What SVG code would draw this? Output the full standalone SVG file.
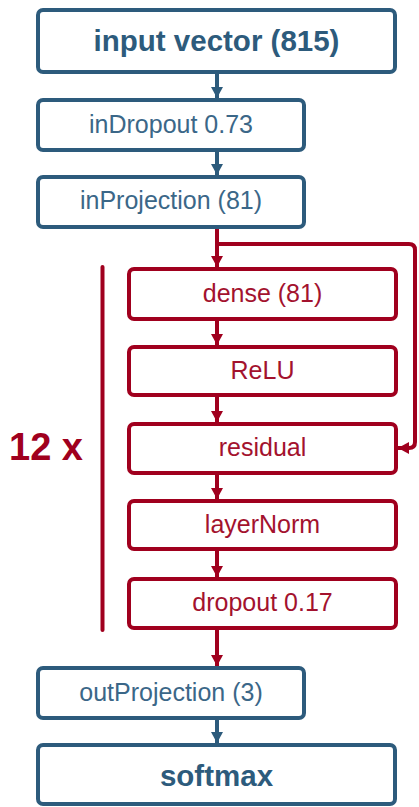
<svg xmlns="http://www.w3.org/2000/svg" width="419" height="807" viewBox="0 0 419 807">
<defs>
<style>
.bb{fill:#fff;stroke:#2d5b7c;stroke-width:4}
.rb{fill:#fff;stroke:#a0001e;stroke-width:4}
.t{font-family:"Liberation Sans",Arial,sans-serif;text-anchor:middle}
.bt{fill:#3b6788;font-size:25px}
.btb{fill:#2d5b7c;font-size:29.5px;font-weight:bold}
.rt{fill:#a3122e;font-size:25px}
.bl{stroke:#2d5b7c;stroke-width:4;fill:none}
.rl{stroke:#a0001e;stroke-width:4;fill:none}
</style>
<marker id="ab" markerUnits="userSpaceOnUse" markerWidth="14" markerHeight="12" refX="11" refY="6" orient="auto" viewBox="0 0 11 12"><path d="M0,0 L11,6 L0,12 z" fill="#2d5b7c"/></marker>
<marker id="ar" markerUnits="userSpaceOnUse" markerWidth="14" markerHeight="12" refX="11" refY="6" orient="auto" viewBox="0 0 11 12"><path d="M0,0 L11,6 L0,12 z" fill="#a0001e"/></marker>
</defs>
<g id="connectors">
<line class="bl" x1="217" y1="74" x2="217" y2="98" marker-end="url(#ab)"/>
<line class="bl" x1="217" y1="152" x2="217" y2="175" marker-end="url(#ab)"/>
<line class="rl" x1="217" y1="229" x2="217" y2="267" marker-end="url(#ar)"/>
<path class="rl" d="M217,244 H409 Q415,244 415,250 V442 Q415,448 409,448 H398" marker-end="url(#ar)"/>
<line class="rl" x1="217" y1="321" x2="217" y2="345" marker-end="url(#ar)"/>
<line class="rl" x1="217" y1="397" x2="217" y2="422" marker-end="url(#ar)"/>
<line class="rl" x1="217" y1="475" x2="217" y2="499" marker-end="url(#ar)"/>
<line class="rl" x1="217" y1="551" x2="217" y2="577" marker-end="url(#ar)"/>
<line class="rl" x1="217" y1="630" x2="217" y2="666" marker-end="url(#ar)"/>
<line class="bl" x1="217" y1="720" x2="217" y2="743" marker-end="url(#ab)"/>
</g>
<g id="input"><rect class="bb" x="38" y="10" width="357" height="62" rx="5"/><text class="t btb" x="216.5" y="51">input vector (815)</text></g>
<g id="inDropout"><rect class="bb" x="38" y="100" width="266" height="50" rx="5"/><text class="t bt" x="171" y="133">inDropout 0.73</text></g>
<g id="inProjection"><rect class="bb" x="38" y="177" width="266" height="50" rx="5"/><text class="t bt" x="171" y="209">inProjection (81)</text></g>
<g id="repeat"><line class="rl" x1="102.5" y1="267" x2="102.5" y2="630" stroke-linecap="round"/><text class="t" x="46" y="460" style="font-size:38px;font-weight:bold;fill:#a0001e">12 x</text></g>
<g id="dense"><rect class="rb" x="129" y="269" width="267" height="50" rx="5"/><text class="t rt" x="262.5" y="302">dense (81)</text></g>
<g id="relu"><rect class="rb" x="129" y="347" width="267" height="48" rx="5"/><text class="t rt" x="262.5" y="379">ReLU</text></g>
<g id="residual"><rect class="rb" x="129" y="424" width="267" height="49" rx="5"/><text class="t rt" x="262.5" y="456">residual</text></g>
<g id="layerNorm"><rect class="rb" x="129" y="501" width="267" height="48" rx="5"/><text class="t rt" x="262.5" y="533">layerNorm</text></g>
<g id="dropout"><rect class="rb" x="129" y="579" width="267" height="49" rx="5"/><text class="t rt" x="262.5" y="611">dropout 0.17</text></g>
<g id="outProjection"><rect class="bb" x="38" y="668" width="266" height="50" rx="5"/><text class="t bt" x="171" y="701">outProjection (3)</text></g>
<g id="softmax"><rect class="bb" x="38" y="745" width="357" height="59" rx="5"/><text class="t btb" x="216.5" y="786">softmax</text></g>
</svg>
